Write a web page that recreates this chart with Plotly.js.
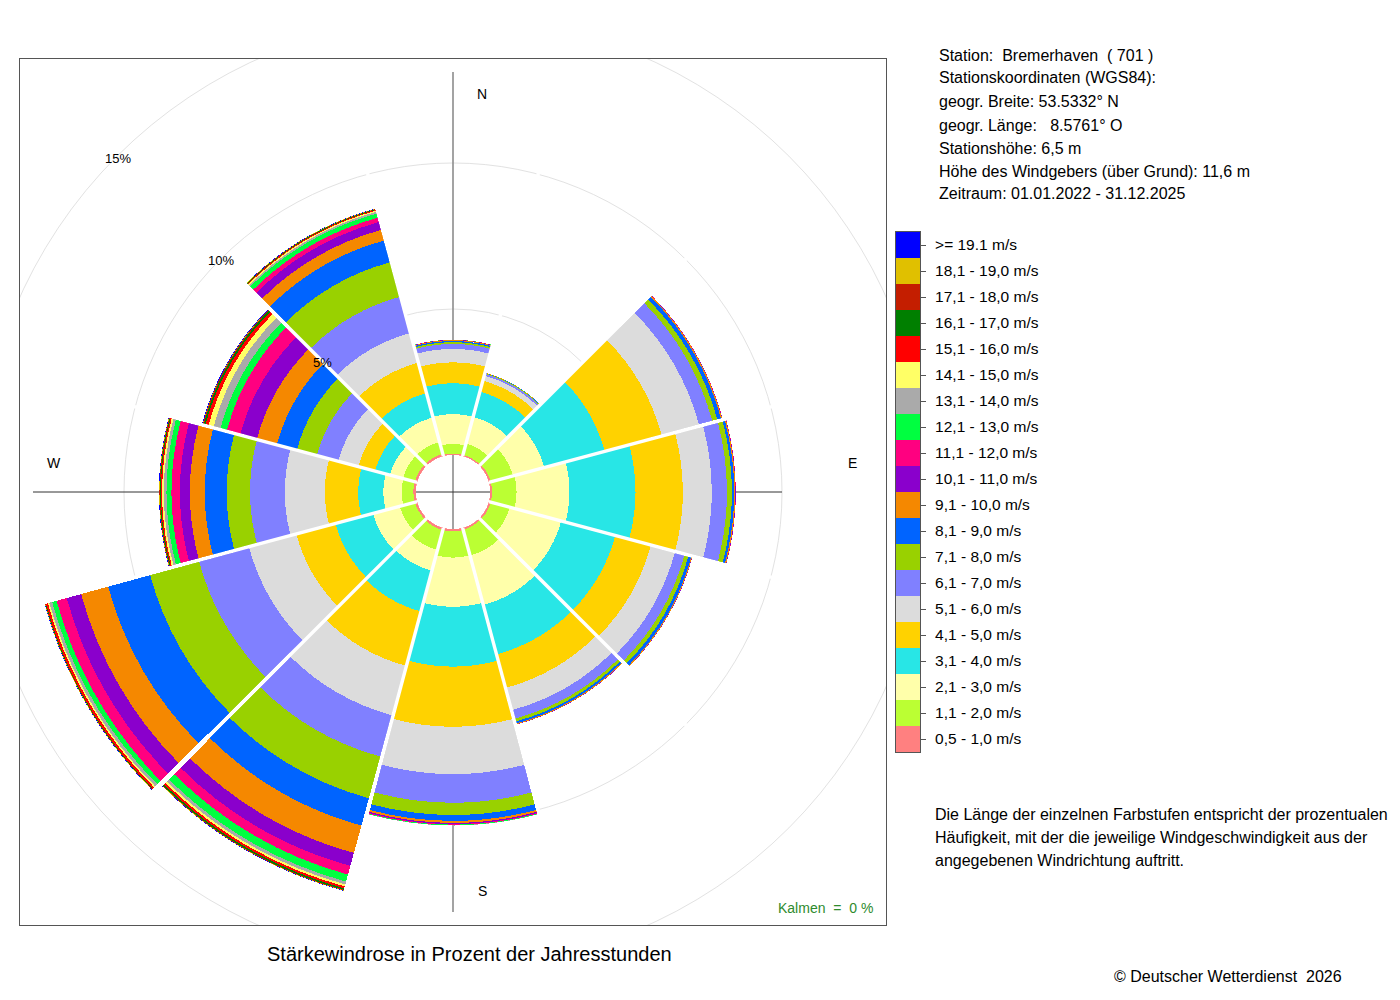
<!DOCTYPE html>
<html>
<head>
<meta charset="utf-8">
<script src="https://cdn.plot.ly/plotly-3.0.1.min.js"></script>
<style>html,body{margin:0;padding:0;background:#fff;}#chart{width:1400px;height:1000px;}</style>
</head>
<body>
<div id="chart"></div>
<script>
// ---- data (percent of annual hours, per direction, per speed class) ----
const directions = [0, 30, 60, 90, 120, 150, 180, 210, 240, 270, 300, 330];
const speedClasses = ['0,5 - 1,0 m/s', '1,1 - 2,0 m/s', '2,1 - 3,0 m/s', '3,1 - 4,0 m/s', '4,1 - 5,0 m/s',
  '5,1 - 6,0 m/s', '6,1 - 7,0 m/s', '7,1 - 8,0 m/s', '8,1 - 9,0 m/s', '9,1 - 10,0 m/s',
  '10,1 - 11,0 m/s', '11,1 - 12,0 m/s', '12,1 - 13,0 m/s', '13,1 - 14,0 m/s', '14,1 - 15,0 m/s',
  '15,1 - 16,0 m/s', '16,1 - 17,0 m/s', '17,1 - 18,0 m/s', '18,1 - 19,0 m/s', '>= 19.1 m/s'];
const classColors = ['#FF8080', '#BBFF33', '#FFFFAA', '#28E6E6', '#FFD200',
  '#DCDCDC', '#8080FF', '#99D100', '#0064FF', '#F58800',
  '#8A00CC', '#FF0080', '#00FF40', '#AAAAAA', '#FFFF66',
  '#FF0000', '#007F00', '#C41E00', '#E0C000', '#0000FF'];

const freqN   = [0.05, 0.33, 1.02, 1.06, 0.71, 0.46, 0.17, 0.06, 0.04, 0.03, 0.01, 0.005, 0.003, 0, 0, 0, 0, 0, 0, 0];
const freqNNE = [0.05, 0.40, 0.95, 0.89, 0.39, 0.18, 0.06, 0.03, 0.01, 0.005, 0, 0, 0, 0, 0, 0, 0, 0, 0, 0];
const freqNE  = [0.07, 0.79, 1.11, 2.14, 2.03, 1.33, 0.47, 0.18, 0.13, 0.04, 0.01, 0.005, 0, 0, 0, 0, 0, 0, 0, 0];
const freqE   = [0.07, 0.84, 1.81, 2.26, 1.62, 0.99, 0.52, 0.17, 0.08, 0.04, 0.01, 0.005, 0, 0, 0, 0, 0, 0, 0, 0];
const freqESE = [0.07, 0.68, 1.82, 1.92, 1.26, 0.86, 0.34, 0.14, 0.10, 0.03, 0.01, 0, 0, 0, 0, 0, 0, 0, 0, 0];
const freqSE  = [0.07, 0.92, 1.75, 1.75, 1.19, 0.79, 0.31, 0.10, 0.07, 0.03, 0.01, 0, 0, 0, 0, 0, 0, 0, 0, 0];
const freqS   = [0.08, 0.90, 1.68, 2.05, 2.06, 1.62, 0.98, 0.42, 0.20, 0.07, 0.04, 0.02, 0.02, 0.01, 0, 0, 0, 0, 0, 0];
const freqSSW = [0.08, 0.71, 0.74, 1.44, 1.93, 1.76, 1.47, 1.48, 0.97, 0.97, 0.46, 0.31, 0.25, 0.10, 0.07, 0.07, 0.05, 0.02, 0.01, 0.01];
const freqWSW = [0.08, 0.54, 0.95, 1.33, 1.39, 1.68, 1.78, 1.74, 1.49, 0.96, 0.51, 0.36, 0.16, 0.10, 0.05, 0.07, 0.02, 0.01, 0.01, 0.01];
const freqW   = [0.09, 0.40, 0.63, 0.86, 1.14, 1.37, 1.19, 0.80, 0.75, 0.51, 0.34, 0.29, 0.17, 0.09, 0.06, 0.04, 0.03, 0.02, 0.01, 0.01];
const freqWNW = [0.08, 0.43, 0.46, 0.53, 0.59, 0.71, 0.76, 0.71, 0.71, 0.71, 0.59, 0.48, 0.23, 0.24, 0.18, 0.11, 0.06, 0.03, 0.01, 0.02];
const freqNNW = [0.08, 0.43, 0.87, 0.86, 1.08, 1.05, 1.29, 1.23, 0.77, 0.38, 0.28, 0.15, 0.15, 0.06, 0.04, 0.03, 0.02, 0.01, 0.01, 0.01];

const radialTicks = [5, 10, 15];
const kalmen = 0;

// ---- build ----
const byDirection = [freqN, freqNNE, freqNE, freqE, freqESE, freqSE, freqS, freqSSW, freqWSW, freqW, freqWNW, freqNNW];

const W = 1400, H = 1000;
const cx = 453, cy = 492;          // rose centre (px)
const half = 433;                  // half size of frame (px)
const holePx = 37;                 // radius of the calm hole (px)
const pxPerPct = 29.2;
const rMax = (half - holePx) / pxPerPct;

const px = v => v / W;
const py = v => 1 - v / H;

const traces = [];
traces.push({type: 'scatter', x: [], y: [], xaxis: 'x', yaxis: 'y', hoverinfo: 'skip', showlegend: false});

speedClasses.forEach((lab, k) => {
  traces.push({
    type: 'barpolar',
    subplot: 'polar',
    name: lab,
    r: byDirection.map(a => a[k]),
    theta: directions,
    width: directions.map(() => 29.3),
    marker: {color: classColors[k], line: {width: 0}},
    hoverinfo: 'skip',
    showlegend: false
  });
});

// white separators between sectors (constant pixel width)
const sepR = [], sepT = [];
directions.forEach(d => { sepR.push(0, rMax, null); sepT.push(d + 15, d + 15, null); });
traces.push({
  type: 'scatterpolar', subplot: 'polar', mode: 'lines', r: sepR, theta: sepT,
  line: {color: '#ffffff', width: 3.4}, hoverinfo: 'skip', showlegend: false, connectgaps: false
});

// legend swatches
traces.push({
  type: 'bar', orientation: 'h', xaxis: 'x2', yaxis: 'y2',
  x: speedClasses.map(() => 1), y: speedClasses, width: 1,
  marker: {color: classColors, line: {width: 0}},
  hoverinfo: 'skip', showlegend: false
});

const shapes = [];
radialTicks.concat([20]).forEach(p => {
  const r = holePx + p * pxPerPct;
  shapes.push({type: 'circle', xref: 'x', yref: 'y', x0: -r, x1: r, y0: -r, y1: r,
    line: {color: '#E2E2E2', width: 1}, layer: 'below'});
});
shapes.push({type: 'line', xref: 'x', yref: 'y', x0: 0, x1: 0, y0: -420, y1: 420,
  line: {color: '#8c8c8c', width: 1.6}, layer: 'below'});
shapes.push({type: 'line', xref: 'x', yref: 'y', x0: -420, x1: 329, y0: 0, y1: 0,
  line: {color: '#333333', width: 1}, layer: 'below'});

const txt = (x, y, text, size, anchor, color) => ({
  xref: 'paper', yref: 'paper', x: px(x), y: py(y), text: text, showarrow: false,
  xanchor: anchor || 'center', yanchor: 'middle', font: {size: size, color: color || '#000'}
});

const annotations = [
  txt(482, 94, 'N', 14), txt(482, 891, 'S', 14), txt(54, 463, 'W', 14), txt(852, 463, 'E', 14),
  txt(322, 362, radialTicks[0] + '%', 13), txt(221, 260, radialTicks[1] + '%', 13), txt(118, 158, radialTicks[2] + '%', 13),
  txt(875, 908, 'Kalmen\u00a0\u00a0=\u00a0\u00a0' + kalmen + '\u00a0%', 14, 'right', '#2E8B2E'),
  txt(470, 954, 'Stärkewindrose in Prozent der Jahresstunden', 20),
  txt(937, 55, 'Station:\u00a0\u00a0Bremerhaven\u00a0\u00a0( 701 )', 16, 'left'),
  txt(937, 78, 'Stationskoordinaten (WGS84):', 16, 'left'),
  txt(937, 102, 'geogr. Breite: 53.5332° N', 16, 'left'),
  txt(937, 125, 'geogr. Länge:\u00a0\u00a0\u00a08.5761° O', 16, 'left'),
  txt(937, 148, 'Stationshöhe: 6,5 m', 16, 'left'),
  txt(937, 171, 'Höhe des Windgebers (über Grund): 11,6 m', 16, 'left'),
  txt(937, 194, 'Zeitraum: 01.01.2022 - 31.12.2025', 16, 'left'),
  txt(933, 814, 'Die Länge der einzelnen Farbstufen entspricht der prozentualen', 16, 'left'),
  txt(933, 837, 'Häufigkeit, mit der die jeweilige Windgeschwindigkeit aus der', 16, 'left'),
  txt(933, 860, 'angegebenen Windrichtung auftritt.', 16, 'left'),
  txt(1228, 976, '© Deutscher Wetterdienst\u00a0\u00a02026', 16)
];

const layout = {
  width: W, height: H,
  margin: {l: 0, r: 0, t: 0, b: 0, pad: 0},
  paper_bgcolor: '#ffffff', plot_bgcolor: 'rgba(0,0,0,0)',
  font: {family: 'Liberation Sans, Arial, sans-serif', color: '#000'},
  showlegend: false, hovermode: false, bargap: 0,
  xaxis: {domain: [px(cx - half), px(cx + half)], range: [-half, half], anchor: 'y',
    showgrid: false, zeroline: false, showticklabels: false, ticks: '',
    showline: true, mirror: true, linecolor: '#555', linewidth: 1, fixedrange: true},
  yaxis: {domain: [py(cy + half), py(cy - half)], range: [-half, half], anchor: 'x',
    showgrid: false, zeroline: false, showticklabels: false, ticks: '',
    showline: true, mirror: true, linecolor: '#555', linewidth: 1, fixedrange: true},
  xaxis2: {domain: [px(896), px(920)], range: [0, 1], anchor: 'y2',
    showgrid: false, zeroline: false, showticklabels: false, ticks: '',
    showline: true, mirror: true, linecolor: '#555', linewidth: 1, fixedrange: true},
  yaxis2: {domain: [py(752), py(232)], anchor: 'x2', side: 'right', type: 'category',
    range: [-0.5, speedClasses.length - 0.5],
    showgrid: false, zeroline: false, ticks: 'outside', ticklen: 5, tickcolor: '#555',
    ticklabelstandoff: 6,
    tickfont: {size: 15.5, color: '#000'}, showline: true, mirror: true, linecolor: '#555', linewidth: 1, fixedrange: true},
  polar: {
    domain: {x: [px(cx - half), px(cx + half)], y: [py(cy + half), py(cy - half)]},
    hole: holePx / half,
    bgcolor: 'rgba(0,0,0,0)',
    barmode: 'stack',
    radialaxis: {range: [0, rMax], visible: false},
    angularaxis: {rotation: 90, direction: 'clockwise', showline: false, showgrid: false,
      showticklabels: false, ticks: ''}
  },
  shapes: shapes,
  annotations: annotations
};

Plotly.newPlot('chart', traces, layout, {displayModeBar: false, staticPlot: true});
</script>
</body>
</html>
